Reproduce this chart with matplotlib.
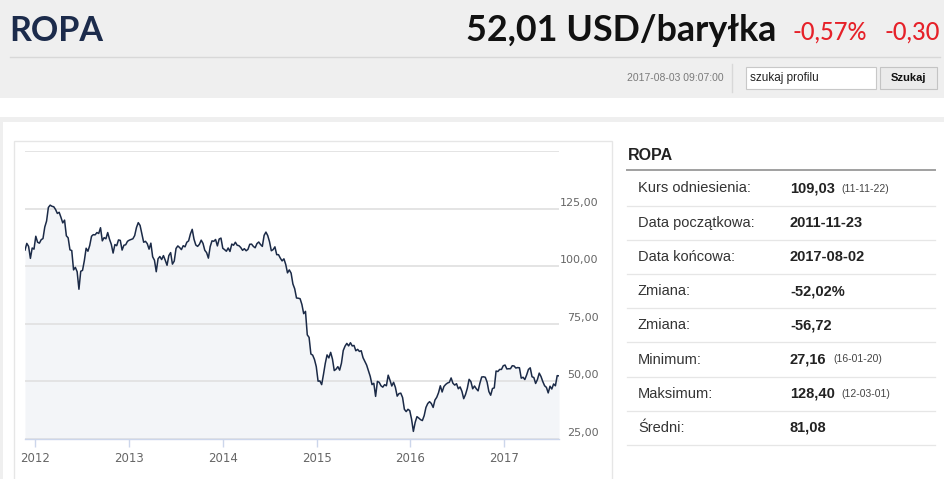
import matplotlib
matplotlib.use('Agg')
import matplotlib.pyplot as plt
import matplotlib.dates as mdates
import matplotlib.transforms as mtransforms
from matplotlib.patches import Rectangle
import pandas as pd

# weekly closing prices (USD/barrel)
price_2011 = [107.0, 109.9, 108.6, 103.4, 107.9, 107.4]
price_2012 = [113.0, 110.4, 110.0, 111.5, 112.0, 117.0, 119.6, 125.5, 126.5, 126.0, 125.8,
              124.6, 122.9, 123.4, 121.2, 118.8, 120.0, 113.2, 112.3, 107.1, 106.8, 98.4,
              99.5, 97.6, 90.0, 97.8, 98.2, 102.4, 107.8, 106.5, 109.0, 113.0, 113.7, 113.6,
              114.6, 114.2, 116.7, 111.0, 112.4, 111.9, 114.6, 111.7, 109.5, 105.7, 109.4,
              108.9, 111.4, 111.2, 107.0, 109.1, 109.3, 110.8]
price_2013 = [111.3, 111.6, 111.9, 113.3, 116.8, 118.9, 117.7, 114.0, 110.4, 110.8, 109.8,
              107.4, 110.0, 104.1, 102.6, 97.6, 103.2, 104.2, 102.9, 104.6, 102.6, 100.4,
              104.6, 105.9, 100.9, 102.2, 107.7, 108.8, 108.1, 107.2, 108.9, 108.4, 110.4,
              111.0, 114.0, 116.0, 111.7, 109.2, 108.6, 109.5, 111.3, 109.9, 106.9, 105.9,
              103.5, 108.5, 111.0, 110.8, 111.6, 108.8, 111.8, 112.2]
price_2014 = [107.8, 107.2, 106.5, 107.9, 106.4, 109.6, 109.1, 110.4, 109.1, 108.9, 108.1,
              106.9, 107.6, 106.7, 107.3, 109.5, 109.6, 108.6, 108.0, 109.8, 110.5, 109.4,
              108.6, 113.4, 114.8, 113.3, 110.6, 106.7, 107.2, 108.4, 105.0, 105.0, 103.5,
              102.3, 103.2, 100.8, 97.1, 98.4, 97.0, 92.3, 90.2, 86.2, 86.1, 85.9, 83.4,
              79.4, 80.4, 70.2, 69.1, 61.9, 61.4, 59.5]
price_2015 = [56.4, 50.1, 50.2, 48.6, 53.0, 57.8, 61.5, 60.2, 62.6, 59.7, 54.7, 55.3, 56.4,
              54.9, 57.9, 63.4, 65.3, 66.5, 65.4, 66.8, 65.4, 65.6, 63.3, 63.9, 63.0, 63.3,
              60.3, 58.7, 57.1, 54.6, 52.2, 48.6, 49.2, 43.5, 50.0, 49.6, 48.1, 47.5, 48.6,
              48.1, 52.7, 50.5, 48.0, 49.6, 47.4, 43.6, 44.7, 44.9, 43.0, 37.9, 36.9, 37.9]
price_2016 = [37.3, 33.6, 28.3, 32.2, 34.7, 34.1, 33.4, 33.0, 35.1, 38.7, 40.4, 41.2, 40.4,
              38.7, 41.9, 43.1, 45.1, 48.1, 45.4, 47.8, 48.7, 49.3, 49.6, 51.5, 49.2, 48.4,
              49.0, 46.8, 47.6, 45.7, 42.5, 44.3, 47.0, 50.9, 49.9, 46.8, 48.0, 46.8, 45.9,
              49.2, 51.9, 52.0, 51.8, 49.7, 45.6, 44.0, 46.9, 47.2, 54.5, 54.3, 55.2, 55.2,
              56.8]
price_2017 = [57.1, 55.4, 55.5, 55.5, 56.8, 56.7, 55.8, 56.0, 55.9, 51.4, 51.8, 50.8, 52.8,
              55.2, 55.9, 52.0, 51.7, 49.1, 50.8, 53.6, 52.1, 49.9, 48.1, 47.4, 45.0, 47.9,
              46.7, 48.9, 48.1, 52.5, 52.4]

price = price_2011 + price_2012 + price_2013 + price_2014 + price_2015 + price_2016 + price_2017
dates = pd.date_range('2011-11-23', '2017-08-02', periods=len(price))

y_ticks = [25, 50, 75, 100, 125, 150]
y_labels = ['25,00', '50,00', '75,00', '100,00', '125,00', '']

info_labels = ['Kurs odniesienia:', 'Data początkowa:', 'Data końcowa:', 'Zmiana:',
               'Zmiana:', 'Minimum:', 'Maksimum:', 'Średni:']
info_values = ['109,03', '2011-11-23', '2017-08-02', '-52,02%', '-56,72', '27,16',
               '128,40', '81,08']
info_notes = ['(11-11-22)', '', '', '', '', '(16-01-20)', '(12-03-01)', '']

W, H = 945, 479
fig = plt.figure(figsize=(W / 100, H / 100), dpi=100)
fig.patch.set_facecolor('white')

# background layer in pixel coordinates
bg = fig.add_axes([0, 0, 1, 1])
bg.set_xlim(0, W)
bg.set_ylim(H, 0)
bg.axis('off')

def box(x0, y0, x1, y1, fc, ec='none', lw=0):
    bg.add_patch(Rectangle((x0, y0), x1 - x0, y1 - y0, facecolor=fc, edgecolor=ec, linewidth=lw))

# header
box(0, 0, W, 98, '#efefef')
bg.plot([10, 940], [57, 57], color='#d8d8d8', lw=1)
bg.plot([732, 732], [64, 92], color='#d8d8d8', lw=1)
bg.text(9, 31, 'ROPA', fontsize=24.5, color='#1c2b4b', fontweight='bold', va='center',
        family='Lato')
bg.text(776, 30, '52,01 USD/baryłka', fontsize=25.8, color='#111111', fontweight='bold',
        ha='right', va='center', family='Lato')
bg.text(793, 32, '-0,57%', fontsize=17, color='#e62129', fontweight='medium', va='center',
        family='Lato')
bg.text(884, 32, '-0,30', fontsize=17, color='#e62129', fontweight='medium', va='center',
        family='Lato')
bg.text(724, 78, '2017-08-03 09:07:00', fontsize=7.5, color='#7a7a7a', ha='right',
        va='center', family='Liberation Sans')
box(746, 67, 876, 89, 'white', '#c8c8c8', 0.8)
bg.text(750, 77.5, 'szukaj profilu', fontsize=8.5, color='#222222', va='center',
        family='Liberation Sans')
box(880, 67, 937, 89, '#ebebeb', '#c4c4c4', 0.8)
bg.text(908.5, 78, 'Szukaj', fontsize=8, color='#111111', fontweight='bold', ha='center',
        va='center', family='Liberation Sans')

# content frame
box(0, 117, W, 122, '#efefef')
box(0, 117, 3, H, '#efefef')
box(14, 141, 612, H + 5, 'white', '#e6e6e6', 1)

# info table
bg.text(628, 155, 'ROPA', fontsize=11.5, color='#222222', fontweight='bold', va='center',
        family='Liberation Sans')
bg.plot([627, 935], [170, 170], color='#a0a0a0', lw=1.4)
for i, (lab, val, note) in enumerate(zip(info_labels, info_values, info_notes)):
    yc = 188.5 + i * 34.2
    bg.text(638, yc, lab, fontsize=10.5, color='#333333', va='center', family='Liberation Sans')
    t = bg.text(790, yc, val, fontsize=10.5, color='#222222', fontweight='bold', va='center',
                family='Liberation Sans')
    if note:
        bg.annotate(note, xy=(1, 0.5), xycoords=t, xytext=(5, 0), textcoords='offset points',
                    fontsize=7.5, color='#444444', va='center', family='Liberation Sans')
    bg.plot([627, 935], [yc + 17, yc + 17], color='#e6e6e6', lw=0.9)

# price chart
ax = fig.add_axes([25 / W, 1 - 439 / H, (559 - 25) / W, (439 - 151) / H])
ax.set_facecolor('none')
ax.fill_between(dates, price, 25, color='#f3f5f8', lw=0, zorder=0.3)
ax.plot(dates, price, color='#1b2a47', lw=1.1, zorder=2)
ax.set_xlim(dates[0], dates[-1])
ax.set_ylim(25, 150)

for s in ['top', 'left', 'right']:
    ax.spines[s].set_visible(False)
ax.spines['bottom'].set_color('#ccd6eb')
ax.spines['bottom'].set_linewidth(1)

ax.yaxis.grid(True, color='#e2e2e2', lw=1.3)
ax.set_axisbelow(True)

ax.xaxis.set_major_locator(mdates.YearLocator())
ax.xaxis.set_major_formatter(mdates.DateFormatter('%Y'))
ax.tick_params(axis='x', length=6, width=1, color='#ccd6eb', labelcolor='#666666',
               labelsize=8.5, pad=3)

ax.yaxis.tick_right()
ax.set_yticks(y_ticks)
ax.set_yticklabels(y_labels)
ax.tick_params(axis='y', length=0, labelcolor='#666666', labelsize=8, pad=28.5)
shift = mtransforms.ScaledTranslation(0, 5 / 72, fig.dpi_scale_trans)
for lab in ax.get_yticklabels():
    lab.set_horizontalalignment('right')
    lab.set_transform(lab.get_transform() + shift)

fig.savefig('out.png', dpi=100)
